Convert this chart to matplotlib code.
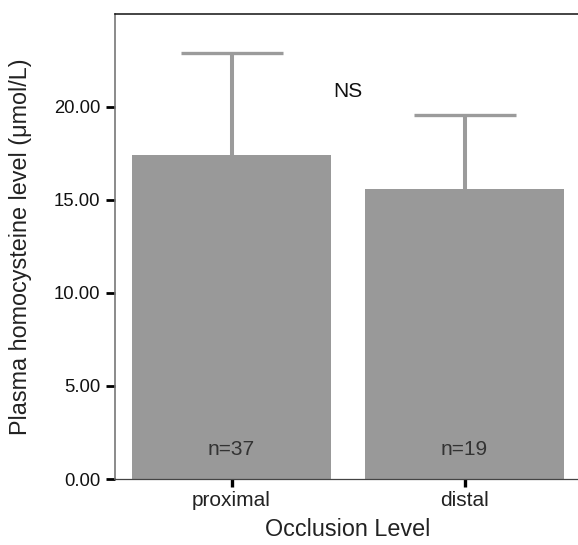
import matplotlib
matplotlib.use("Agg")
import matplotlib.pyplot as plt

categories = ["proximal", "distal"]
means = [17.41, 15.59]
sd = [5.48, 3.98]
n_labels = ["n=37", "n=19"]
y_ticks = [0, 5, 10, 15, 20]
y_tick_labels = ["0.00", "5.00", "10.00", "15.00", "20.00"]

plt.rcParams['font.family'] = ['Liberation Sans', 'DejaVu Sans']

W, H = 578, 545
fig = plt.figure(figsize=(W / 100, H / 100), dpi=100)
left, right, top, bottom = 115, 581, 13.5, 479
ax = fig.add_axes([left / W, 1 - bottom / H, (right - left) / W, (bottom - top) / H])

x = list(range(len(categories)))
bar_color = "#999999"
ax.errorbar(x, means, yerr=sd, fmt="none", ecolor="#9b9b9b", elinewidth=2.9,
            capsize=37, capthick=2.4, zorder=1)
ax.bar(x, means, width=0.85, color=bar_color, zorder=2)

for xi, lab in zip(x, n_labels):
    ax.text(xi, 1.6, lab, ha="center", va="center", fontsize=15, color="#333333", zorder=3)

ax.text(0.5, 20.8, "NS", ha="center", va="center", fontsize=15, color="#111111")

ax.set_xlim(-0.5, 1.5)
ax.set_ylim(0, 25)
ax.set_xticks(x)
ax.set_xticklabels(categories, fontsize=15, color="#222222")
ax.set_yticks(y_ticks)
ax.set_yticklabels(y_tick_labels, fontsize=13.3, color="#111111")
ax.tick_params(axis="y", direction="out", length=6.8, width=2.0, pad=3.6, color="black")
ax.tick_params(axis="x", direction="out", length=5.5, width=2.4, pad=3.0, color="black")

ax.spines["left"].set_color("#777777")
ax.spines["left"].set_linewidth(1.2)
ax.spines["top"].set_color("#111111")
ax.spines["top"].set_linewidth(1.1)
ax.spines["bottom"].set_color("#444444")
ax.spines["bottom"].set_linewidth(0.9)
ax.spines["right"].set_visible(False)

ax.set_ylabel("Plasma homocysteine level (μmol/L)", fontsize=16.8, color="#222222")
ax.yaxis.label.set_va("center")
ax.yaxis.set_label_coords((21 - left) / (right - left), 0.5)
ax.set_xlabel("Occlusion Level", fontsize=16.8, color="#222222")
ax.xaxis.label.set_va("center")
ax.xaxis.set_label_coords(0.5, (bottom - 529) / (bottom - top))

fig.savefig("out.png", dpi=100)
